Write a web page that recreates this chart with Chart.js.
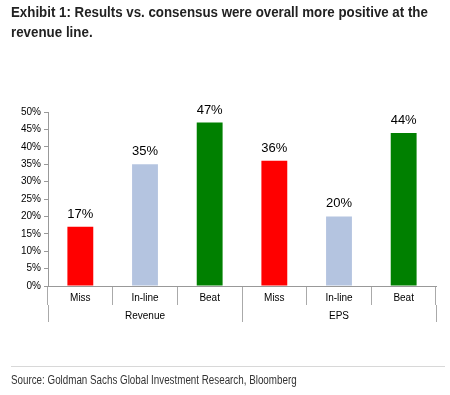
<!DOCTYPE html>
<html>
<head>
<meta charset="utf-8">
<script src="https://cdn.jsdelivr.net/npm/chart.js@4"></script>
<style>
  body { margin: 0; background: #fff; }
  #wrap { position: relative; width: 450px; height: 395px; overflow: hidden; }
  .line { position: absolute; left: 11px; white-space: nowrap; display: inline-block; transform-origin: 0 0; }
  .title { font: bold 14px "Liberation Sans", Arial, sans-serif; color: #222; }
  #t1 { top: 4px; }
  #t2 { top: 24px; }
  #rule { position: absolute; left: 11px; top: 366px; width: 434px; height: 1px; background: #d8d8d8; }
  #source { top: 373px; font: 12px "Liberation Sans", Arial, sans-serif; color: #333; }
  canvas { position: absolute; left: 0; top: 0; }
</style>
</head>
<body>
<div id="wrap">
  <canvas id="c" width="450" height="395"></canvas>
  <span id="t1" class="line title">Exhibit 1: Results vs. consensus were overall more positive at the</span>
  <span id="t2" class="line title">revenue line.</span>
  <div id="rule"></div>
  <span id="source" class="line">Source: Goldman Sachs Global Investment Research, Bloomberg</span>
</div>
<script>
const categories = ['Miss', 'In-line', 'Beat', 'Miss', 'In-line', 'Beat'];
const groups = ['Revenue', 'EPS'];
const values = [17, 35, 47, 36, 20, 44];
const barColors = ['#ff0000', '#b4c4e0', '#008000', '#ff0000', '#b4c4e0', '#008000'];

// squeeze the text lines to the narrow width of the original font
function squeeze(id, w) {
  const el = document.getElementById(id);
  el.style.transform = 'scaleX(' + (w / el.offsetWidth) + ')';
}
squeeze('t1', 417);
squeeze('t2', 82);
squeeze('source', 286);

// value labels above each bar
const valueLabels = {
  id: 'valueLabels',
  afterDatasetsDraw(chart) {
    const ctx = chart.ctx;
    const meta = chart.getDatasetMeta(0);
    ctx.save();
    ctx.font = '13px Arial, "Liberation Sans", sans-serif';
    ctx.fillStyle = '#000';
    ctx.textAlign = 'center';
    ctx.textBaseline = 'bottom';
    meta.data.forEach((bar, i) => {
      ctx.fillText(values[i] + '%', bar.x, bar.y - 6);
    });
    ctx.restore();
  }
};

const tickFont = { family: 'Arial, "Liberation Sans", sans-serif', size: 10 };

new Chart(document.getElementById('c'), {
  type: 'bar',
  data: {
    labels: categories,
    datasets: [{
      data: values,
      backgroundColor: barColors,
      barPercentage: 0.4,
      categoryPercentage: 1
    }]
  },
  options: {
    responsive: false,
    animation: false,
    layout: { padding: { top: 112, right: 14, bottom: 68, left: 0 } },
    plugins: { legend: { display: false }, tooltip: { enabled: false } },
    scales: {
      y: {
        min: 0, max: 50,
        ticks: { stepSize: 5, callback: v => v + '%', color: '#000', padding: 3, font: tickFont },
        grid: { drawOnChartArea: false, tickLength: 4, color: '#999' },
        border: { color: '#999' },
        afterFit(s) { s.width = 48; }
      },
      x: {
        weight: 0,
        ticks: { color: '#000', padding: -13, font: tickFont },
        grid: { offset: true, drawOnChartArea: false, tickLength: 19, color: '#aaa' },
        border: { color: '#999' },
        afterFit(s) { s.height = 19; }
      },
      x2: {
        type: 'category',
        labels: groups,
        position: 'bottom',
        weight: 1,
        ticks: { color: '#000', padding: -12, font: tickFont },
        grid: { offset: true, drawOnChartArea: false, tickLength: 17, color: '#aaa' },
        border: { display: false },
        afterFit(s) { s.height = 22; }
      }
    }
  },
  plugins: [valueLabels]
});
</script>
</body>
</html>
